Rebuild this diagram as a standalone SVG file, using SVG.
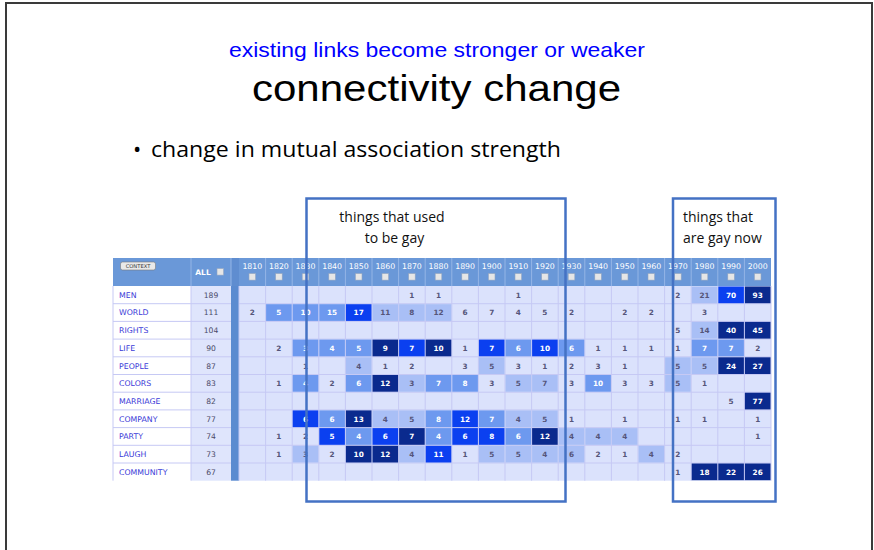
<svg xmlns="http://www.w3.org/2000/svg" width="874" height="550" viewBox="0 0 874 550">
<style>
.yr{font-family:"DejaVu Sans",Verdana,sans-serif;font-size:7.8px;fill:#ffffff;text-anchor:middle}
.cb{fill:#e6e6e6;stroke:#8fa3c0;stroke-width:0.6}
.lb{font-family:"DejaVu Sans",Verdana,sans-serif;font-size:7.8px;fill:#3b3bd8}
.al{font-family:"DejaVu Sans",Verdana,sans-serif;font-size:7.6px;fill:#4a4a68;text-anchor:middle}
.n{font-family:"DejaVu Sans",Verdana,sans-serif;font-size:7.3px;font-weight:bold;text-anchor:middle;fill:#55557a}
.w{fill:#ffffff}
.L{fill:#a9bff6}
.M{fill:#6d99ef}
.D{fill:#0b40f0}
.N{fill:#0a2a8e}
.box{fill:none;stroke:#4472c4;stroke-width:2.5}
.bt{font-family:"Open Sans","DejaVu Sans",sans-serif;font-size:14px;fill:#111111}
</style>
<rect x="0" y="0" width="874" height="550" fill="#ffffff"/>
<rect x="6" y="3" width="866" height="570" fill="none" stroke="#3a3a3a" stroke-width="2"/>

<g id="titles">
<text x="229" y="57" font-family="Liberation Sans,Arial,sans-serif" font-size="21" fill="#0000ff" textLength="416" lengthAdjust="spacingAndGlyphs">existing links become stronger or weaker</text>
<text x="252" y="101" font-family="Liberation Sans,Arial,sans-serif" font-size="36" fill="#000000" textLength="369" lengthAdjust="spacingAndGlyphs">connectivity change</text>
<text x="133" y="157" font-family="Open Sans,DejaVu Sans,sans-serif" font-size="22" fill="#000000">•</text>
<text x="151" y="157" font-family="Open Sans,DejaVu Sans,sans-serif" font-size="22" fill="#000000" textLength="410" lengthAdjust="spacingAndGlyphs">change in mutual association strength</text>
</g>

<g id="table">
<rect x="113" y="286" width="78" height="194.7" fill="#ffffff"/>
<rect x="191" y="286" width="40" height="194.7" fill="#dfe5fc"/>
<rect x="231" y="286" width="8" height="194.7" fill="#5b8bd0"/>
<rect x="239" y="286" width="532" height="194.7" fill="#dbe2fc"/>
<rect x="113" y="258" width="658" height="28" fill="#6a98d8"/>
<rect x="231" y="258" width="8" height="28" fill="#5f8dd0"/>
<path d="M191 258V286M231 258V286M265.6 258V286M292.2 258V286M318.8 258V286M345.4 258V286M372 258V286M398.6 258V286M425.2 258V286M451.8 258V286M478.4 258V286M505 258V286M531.6 258V286M558.2 258V286M584.8 258V286M611.4 258V286M638 258V286M664.6 258V286M691.2 258V286M717.8 258V286M744.4 258V286" stroke="#94b5e6" stroke-width="1" fill="none"/>
<rect x="120.5" y="262" width="35" height="8" rx="2" fill="#e9e9e9" stroke="#7a7a7a" stroke-width="0.6"/>
<text x="138" y="268.3" font-family="DejaVu Sans,sans-serif" font-size="5.2" fill="#333333" text-anchor="middle">CONTEXT</text>
<text x="203" y="275" font-family="DejaVu Sans,sans-serif" font-size="7.5" font-weight="bold" fill="#ffffff" text-anchor="middle">ALL</text>
<rect class="cb" x="217" y="268.5" width="6.6" height="6.6"/>
<g id="years">
<text class="yr" x="252.3" y="268.5">1810</text><rect class="cb" x="249" y="273.5" width="6.6" height="6.6"/>
<text class="yr" x="278.9" y="268.5">1820</text><rect class="cb" x="275.6" y="273.5" width="6.6" height="6.6"/>
<text class="yr" x="305.5" y="268.5">1830</text><rect class="cb" x="302.2" y="273.5" width="6.6" height="6.6"/>
<text class="yr" x="332.1" y="268.5">1840</text><rect class="cb" x="328.8" y="273.5" width="6.6" height="6.6"/>
<text class="yr" x="358.7" y="268.5">1850</text><rect class="cb" x="355.4" y="273.5" width="6.6" height="6.6"/>
<text class="yr" x="385.3" y="268.5">1860</text><rect class="cb" x="382" y="273.5" width="6.6" height="6.6"/>
<text class="yr" x="411.9" y="268.5">1870</text><rect class="cb" x="408.6" y="273.5" width="6.6" height="6.6"/>
<text class="yr" x="438.5" y="268.5">1880</text><rect class="cb" x="435.2" y="273.5" width="6.6" height="6.6"/>
<text class="yr" x="465.1" y="268.5">1890</text><rect class="cb" x="461.8" y="273.5" width="6.6" height="6.6"/>
<text class="yr" x="491.7" y="268.5">1900</text><rect class="cb" x="488.4" y="273.5" width="6.6" height="6.6"/>
<text class="yr" x="518.3" y="268.5">1910</text><rect class="cb" x="515" y="273.5" width="6.6" height="6.6"/>
<text class="yr" x="544.9" y="268.5">1920</text><rect class="cb" x="541.6" y="273.5" width="6.6" height="6.6"/>
<text class="yr" x="571.5" y="268.5">1930</text><rect class="cb" x="568.2" y="273.5" width="6.6" height="6.6"/>
<text class="yr" x="598.1" y="268.5">1940</text><rect class="cb" x="594.8" y="273.5" width="6.6" height="6.6"/>
<text class="yr" x="624.7" y="268.5">1950</text><rect class="cb" x="621.4" y="273.5" width="6.6" height="6.6"/>
<text class="yr" x="651.3" y="268.5">1960</text><rect class="cb" x="648" y="273.5" width="6.6" height="6.6"/>
<text class="yr" x="677.9" y="268.5">1970</text><rect class="cb" x="674.6" y="273.5" width="6.6" height="6.6"/>
<text class="yr" x="704.5" y="268.5">1980</text><rect class="cb" x="701.2" y="273.5" width="6.6" height="6.6"/>
<text class="yr" x="731.1" y="268.5">1990</text><rect class="cb" x="727.8" y="273.5" width="6.6" height="6.6"/>
<text class="yr" x="757.7" y="268.5">2000</text><rect class="cb" x="754.4" y="273.5" width="6.6" height="6.6"/>
</g>
<path d="M113 286V480.7M191 286V480.7M239 286V480.7M265.6 286V480.7M292.2 286V480.7M318.8 286V480.7M345.4 286V480.7M372 286V480.7M398.6 286V480.7M425.2 286V480.7M451.8 286V480.7M478.4 286V480.7M505 286V480.7M531.6 286V480.7M558.2 286V480.7M584.8 286V480.7M611.4 286V480.7M638 286V480.7M664.6 286V480.7M691.2 286V480.7M717.8 286V480.7M744.4 286V480.7M771 286V480.7M113 303.7H231M239 303.7H771M113 321.4H231M239 321.4H771M113 339.1H231M239 339.1H771M113 356.8H231M239 356.8H771M113 374.5H231M239 374.5H771M113 392.2H231M239 392.2H771M113 409.9H231M239 409.9H771M113 427.6H231M239 427.6H771M113 445.3H231M239 445.3H771M113 463H231M239 463H771" stroke="#c6c9f4" stroke-width="1" fill="none"/>

<g id="labels">
<text class="lb" x="119" y="297.7">MEN</text><text class="al" x="211" y="297.7">189</text>
<text class="lb" x="119" y="315.4">WORLD</text><text class="al" x="211" y="315.4">111</text>
<text class="lb" x="119" y="333.1">RIGHTS</text><text class="al" x="211" y="333.1">104</text>
<text class="lb" x="119" y="350.8">LIFE</text><text class="al" x="211" y="350.8">90</text>
<text class="lb" x="119" y="368.5">PEOPLE</text><text class="al" x="211" y="368.5">87</text>
<text class="lb" x="119" y="386.2">COLORS</text><text class="al" x="211" y="386.2">83</text>
<text class="lb" x="119" y="403.9">MARRIAGE</text><text class="al" x="211" y="403.9">82</text>
<text class="lb" x="119" y="421.6">COMPANY</text><text class="al" x="211" y="421.6">77</text>
<text class="lb" x="119" y="439.3">PARTY</text><text class="al" x="211" y="439.3">74</text>
<text class="lb" x="119" y="457">LAUGH</text><text class="al" x="211" y="457">73</text>
<text class="lb" x="119" y="474.7">COMMUNITY</text><text class="al" x="211" y="474.7">67</text>
</g>

<g id="row-men">
<text class="n" x="411.9" y="297.7">1</text>
<text class="n" x="438.5" y="297.7">1</text>
<text class="n" x="518.3" y="297.7">1</text>
<text class="n" x="677.9" y="297.7">2</text>
<rect class="L" x="691.7" y="286.5" width="25.6" height="16.7"/><text class="n" x="704.5" y="297.7">21</text>
<rect class="D" x="718.3" y="286.5" width="25.6" height="16.7"/><text class="n w" x="731.1" y="297.7">70</text>
<rect class="N" x="744.9" y="286.5" width="25.6" height="16.7"/><text class="n w" x="757.7" y="297.7">93</text>
</g>
<g id="row-world">
<text class="n" x="252.3" y="315.4">2</text>
<rect class="M" x="266.1" y="304.2" width="25.6" height="16.7"/><text class="n w" x="278.9" y="315.4">5</text>
<rect class="M" x="292.7" y="304.2" width="25.6" height="16.7"/><text class="n w" x="305.5" y="315.4">10</text>
<rect class="M" x="319.3" y="304.2" width="25.6" height="16.7"/><text class="n w" x="332.1" y="315.4">15</text>
<rect class="D" x="345.9" y="304.2" width="25.6" height="16.7"/><text class="n w" x="358.7" y="315.4">17</text>
<rect class="L" x="372.5" y="304.2" width="25.6" height="16.7"/><text class="n" x="385.3" y="315.4">11</text>
<rect class="L" x="399.1" y="304.2" width="25.6" height="16.7"/><text class="n" x="411.9" y="315.4">8</text>
<rect class="L" x="425.7" y="304.2" width="25.6" height="16.7"/><text class="n" x="438.5" y="315.4">12</text>
<text class="n" x="465.1" y="315.4">6</text>
<text class="n" x="491.7" y="315.4">7</text>
<text class="n" x="518.3" y="315.4">4</text>
<text class="n" x="544.9" y="315.4">5</text>
<text class="n" x="571.5" y="315.4">2</text>
<text class="n" x="624.7" y="315.4">2</text>
<text class="n" x="651.3" y="315.4">2</text>
<text class="n" x="704.5" y="315.4">3</text>
</g>
<g id="row-rights">
<text class="n" x="677.9" y="333.1">5</text>
<rect class="L" x="691.7" y="321.9" width="25.6" height="16.7"/><text class="n" x="704.5" y="333.1">14</text>
<rect class="N" x="718.3" y="321.9" width="25.6" height="16.7"/><text class="n w" x="731.1" y="333.1">40</text>
<rect class="N" x="744.9" y="321.9" width="25.6" height="16.7"/><text class="n w" x="757.7" y="333.1">45</text>
</g>
<g id="row-life">
<text class="n" x="278.9" y="350.8">2</text>
<rect class="M" x="292.7" y="339.6" width="25.6" height="16.7"/><text class="n w" x="305.5" y="350.8">3</text>
<rect class="M" x="319.3" y="339.6" width="25.6" height="16.7"/><text class="n w" x="332.1" y="350.8">4</text>
<rect class="M" x="345.9" y="339.6" width="25.6" height="16.7"/><text class="n w" x="358.7" y="350.8">5</text>
<rect class="N" x="372.5" y="339.6" width="25.6" height="16.7"/><text class="n w" x="385.3" y="350.8">9</text>
<rect class="D" x="399.1" y="339.6" width="25.6" height="16.7"/><text class="n w" x="411.9" y="350.8">7</text>
<rect class="N" x="425.7" y="339.6" width="25.6" height="16.7"/><text class="n w" x="438.5" y="350.8">10</text>
<text class="n" x="465.1" y="350.8">1</text>
<rect class="D" x="478.9" y="339.6" width="25.6" height="16.7"/><text class="n w" x="491.7" y="350.8">7</text>
<rect class="M" x="505.5" y="339.6" width="25.6" height="16.7"/><text class="n w" x="518.3" y="350.8">6</text>
<rect class="D" x="532.1" y="339.6" width="25.6" height="16.7"/><text class="n w" x="544.9" y="350.8">10</text>
<rect class="M" x="558.7" y="339.6" width="25.6" height="16.7"/><text class="n w" x="571.5" y="350.8">6</text>
<text class="n" x="598.1" y="350.8">1</text>
<text class="n" x="624.7" y="350.8">1</text>
<text class="n" x="651.3" y="350.8">1</text>
<text class="n" x="677.9" y="350.8">1</text>
<rect class="M" x="691.7" y="339.6" width="25.6" height="16.7"/><text class="n w" x="704.5" y="350.8">7</text>
<rect class="M" x="718.3" y="339.6" width="25.6" height="16.7"/><text class="n w" x="731.1" y="350.8">7</text>
<text class="n" x="757.7" y="350.8">2</text>
</g>
<g id="row-people">
<text class="n" x="305.5" y="368.5">1</text>
<rect class="L" x="345.9" y="357.3" width="25.6" height="16.7"/><text class="n" x="358.7" y="368.5">4</text>
<text class="n" x="385.3" y="368.5">1</text>
<text class="n" x="411.9" y="368.5">2</text>
<text class="n" x="465.1" y="368.5">3</text>
<rect class="L" x="478.9" y="357.3" width="25.6" height="16.7"/><text class="n" x="491.7" y="368.5">5</text>
<text class="n" x="518.3" y="368.5">3</text>
<text class="n" x="544.9" y="368.5">1</text>
<text class="n" x="571.5" y="368.5">2</text>
<text class="n" x="598.1" y="368.5">3</text>
<text class="n" x="624.7" y="368.5">1</text>
<rect class="L" x="665.1" y="357.3" width="25.6" height="16.7"/><text class="n" x="677.9" y="368.5">5</text>
<rect class="L" x="691.7" y="357.3" width="25.6" height="16.7"/><text class="n" x="704.5" y="368.5">5</text>
<rect class="N" x="718.3" y="357.3" width="25.6" height="16.7"/><text class="n w" x="731.1" y="368.5">24</text>
<rect class="N" x="744.9" y="357.3" width="25.6" height="16.7"/><text class="n w" x="757.7" y="368.5">27</text>
</g>
<g id="row-colors">
<text class="n" x="278.9" y="386.2">1</text>
<rect class="M" x="292.7" y="375" width="25.6" height="16.7"/><text class="n w" x="305.5" y="386.2">4</text>
<text class="n" x="332.1" y="386.2">2</text>
<rect class="M" x="345.9" y="375" width="25.6" height="16.7"/><text class="n w" x="358.7" y="386.2">6</text>
<rect class="N" x="372.5" y="375" width="25.6" height="16.7"/><text class="n w" x="385.3" y="386.2">12</text>
<rect class="L" x="399.1" y="375" width="25.6" height="16.7"/><text class="n" x="411.9" y="386.2">3</text>
<rect class="M" x="425.7" y="375" width="25.6" height="16.7"/><text class="n w" x="438.5" y="386.2">7</text>
<rect class="M" x="452.3" y="375" width="25.6" height="16.7"/><text class="n w" x="465.1" y="386.2">8</text>
<text class="n" x="491.7" y="386.2">3</text>
<rect class="L" x="505.5" y="375" width="25.6" height="16.7"/><text class="n" x="518.3" y="386.2">5</text>
<rect class="L" x="532.1" y="375" width="25.6" height="16.7"/><text class="n" x="544.9" y="386.2">7</text>
<text class="n" x="571.5" y="386.2">3</text>
<rect class="M" x="585.3" y="375" width="25.6" height="16.7"/><text class="n w" x="598.1" y="386.2">10</text>
<text class="n" x="624.7" y="386.2">3</text>
<text class="n" x="651.3" y="386.2">3</text>
<rect class="L" x="665.1" y="375" width="25.6" height="16.7"/><text class="n" x="677.9" y="386.2">5</text>
<text class="n" x="704.5" y="386.2">1</text>
</g>
<g id="row-marriage">
<text class="n" x="731.1" y="403.9">5</text>
<rect class="N" x="744.9" y="392.7" width="25.6" height="16.7"/><text class="n w" x="757.7" y="403.9">77</text>
</g>
<g id="row-company">
<rect class="D" x="292.7" y="410.4" width="25.6" height="16.7"/><text class="n w" x="305.5" y="421.6">6</text>
<rect class="M" x="319.3" y="410.4" width="25.6" height="16.7"/><text class="n w" x="332.1" y="421.6">6</text>
<rect class="N" x="345.9" y="410.4" width="25.6" height="16.7"/><text class="n w" x="358.7" y="421.6">13</text>
<rect class="L" x="372.5" y="410.4" width="25.6" height="16.7"/><text class="n" x="385.3" y="421.6">4</text>
<rect class="L" x="399.1" y="410.4" width="25.6" height="16.7"/><text class="n" x="411.9" y="421.6">5</text>
<rect class="M" x="425.7" y="410.4" width="25.6" height="16.7"/><text class="n w" x="438.5" y="421.6">8</text>
<rect class="D" x="452.3" y="410.4" width="25.6" height="16.7"/><text class="n w" x="465.1" y="421.6">12</text>
<rect class="M" x="478.9" y="410.4" width="25.6" height="16.7"/><text class="n w" x="491.7" y="421.6">7</text>
<rect class="L" x="505.5" y="410.4" width="25.6" height="16.7"/><text class="n" x="518.3" y="421.6">4</text>
<rect class="L" x="532.1" y="410.4" width="25.6" height="16.7"/><text class="n" x="544.9" y="421.6">5</text>
<text class="n" x="571.5" y="421.6">1</text>
<text class="n" x="624.7" y="421.6">1</text>
<text class="n" x="677.9" y="421.6">1</text>
<text class="n" x="704.5" y="421.6">1</text>
<text class="n" x="757.7" y="421.6">1</text>
</g>
<g id="row-party">
<text class="n" x="278.9" y="439.3">1</text>
<text class="n" x="305.5" y="439.3">2</text>
<rect class="D" x="319.3" y="428.1" width="25.6" height="16.7"/><text class="n w" x="332.1" y="439.3">5</text>
<rect class="M" x="345.9" y="428.1" width="25.6" height="16.7"/><text class="n w" x="358.7" y="439.3">4</text>
<rect class="D" x="372.5" y="428.1" width="25.6" height="16.7"/><text class="n w" x="385.3" y="439.3">6</text>
<rect class="N" x="399.1" y="428.1" width="25.6" height="16.7"/><text class="n w" x="411.9" y="439.3">7</text>
<rect class="M" x="425.7" y="428.1" width="25.6" height="16.7"/><text class="n w" x="438.5" y="439.3">4</text>
<rect class="D" x="452.3" y="428.1" width="25.6" height="16.7"/><text class="n w" x="465.1" y="439.3">6</text>
<rect class="D" x="478.9" y="428.1" width="25.6" height="16.7"/><text class="n w" x="491.7" y="439.3">8</text>
<rect class="M" x="505.5" y="428.1" width="25.6" height="16.7"/><text class="n w" x="518.3" y="439.3">6</text>
<rect class="N" x="532.1" y="428.1" width="25.6" height="16.7"/><text class="n w" x="544.9" y="439.3">12</text>
<rect class="L" x="558.7" y="428.1" width="25.6" height="16.7"/><text class="n" x="571.5" y="439.3">4</text>
<rect class="L" x="585.3" y="428.1" width="25.6" height="16.7"/><text class="n" x="598.1" y="439.3">4</text>
<rect class="L" x="611.9" y="428.1" width="25.6" height="16.7"/><text class="n" x="624.7" y="439.3">4</text>
<text class="n" x="757.7" y="439.3">1</text>
</g>
<g id="row-laugh">
<text class="n" x="278.9" y="457">1</text>
<rect class="L" x="292.7" y="445.8" width="25.6" height="16.7"/><text class="n" x="305.5" y="457">3</text>
<text class="n" x="332.1" y="457">2</text>
<rect class="N" x="345.9" y="445.8" width="25.6" height="16.7"/><text class="n w" x="358.7" y="457">10</text>
<rect class="N" x="372.5" y="445.8" width="25.6" height="16.7"/><text class="n w" x="385.3" y="457">12</text>
<rect class="L" x="399.1" y="445.8" width="25.6" height="16.7"/><text class="n" x="411.9" y="457">4</text>
<rect class="D" x="425.7" y="445.8" width="25.6" height="16.7"/><text class="n w" x="438.5" y="457">11</text>
<text class="n" x="465.1" y="457">1</text>
<rect class="L" x="478.9" y="445.8" width="25.6" height="16.7"/><text class="n" x="491.7" y="457">5</text>
<rect class="L" x="505.5" y="445.8" width="25.6" height="16.7"/><text class="n" x="518.3" y="457">5</text>
<rect class="L" x="532.1" y="445.8" width="25.6" height="16.7"/><text class="n" x="544.9" y="457">4</text>
<rect class="L" x="558.7" y="445.8" width="25.6" height="16.7"/><text class="n" x="571.5" y="457">6</text>
<text class="n" x="598.1" y="457">2</text>
<text class="n" x="624.7" y="457">1</text>
<rect class="L" x="638.5" y="445.8" width="25.6" height="16.7"/><text class="n" x="651.3" y="457">4</text>
<text class="n" x="677.9" y="457">2</text>
</g>
<g id="row-community">
<text class="n" x="677.9" y="474.7">1</text>
<rect class="N" x="691.7" y="463.5" width="25.6" height="16.7"/><text class="n w" x="704.5" y="474.7">18</text>
<rect class="N" x="718.3" y="463.5" width="25.6" height="16.7"/><text class="n w" x="731.1" y="474.7">22</text>
<rect class="N" x="744.9" y="463.5" width="25.6" height="16.7"/><text class="n w" x="757.7" y="474.7">26</text>
</g>
</g>

<g id="box-past">
<rect class="box" x="306.5" y="198.5" width="259" height="303"/>
<text class="bt" x="392" y="221.5" text-anchor="middle">things that used</text>
<text class="bt" x="394.5" y="243" text-anchor="middle">to be gay</text>
</g>
<g id="box-now">
<rect class="box" x="673" y="198.5" width="102.5" height="303"/>
<text class="bt" x="683" y="221.5">things that</text>
<text class="bt" x="683" y="243">are gay now</text>
</g>
</svg>
